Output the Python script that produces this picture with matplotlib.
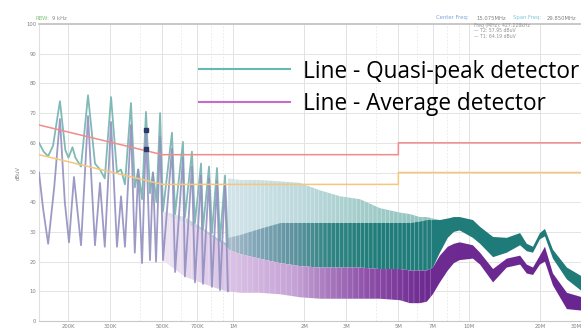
import numpy as np
import matplotlib.pyplot as plt
from matplotlib.patches import PathPatch
from matplotlib.lines import Line2D
from matplotlib.colors import to_rgb

W, H = 581, 328

# limit lines (MHz, dBuV)
lim_f = [0.15, 0.5, 5, 5, 30]
qp_limit = [66, 56, 56, 60, 60]
avg_limit = [56, 46, 46, 50, 50]

# low band traces, peaks / valleys (kHz, dBuV)
qp_lo_f = [150, 157, 164, 172, 184, 194, 200, 208, 214, 226, 242, 259, 272, 285, 303, 321, 334, 347,
           368, 382, 395, 410, 426, 443, 456, 472, 489, 503, 549, 566, 611, 623, 667, 687, 729, 743,
           788, 811, 852, 877, 921, 948]
qp_lo = [60, 57, 55.5, 59, 74, 57.5, 55, 58.5, 55, 52, 76, 53, 51, 48, 75.4, 50, 51, 46,
         73.4, 45, 51, 41, 70.4, 43, 50, 40, 70, 37, 63.4, 36, 60.3, 35, 57, 33, 53, 31,
         52, 29.6, 51.5, 27, 49, 25]

avg_lo_f = [150, 156, 164, 174, 184, 193, 201, 211, 226, 242, 259, 272, 285, 303, 321, 334, 347,
            368, 382, 395, 410, 426, 443, 456, 470, 489, 503, 549, 566, 611, 623, 667, 687, 729,
            743, 788, 811, 852, 877, 921, 948]
avg_lo = [50, 38, 26, 45, 68, 40, 26.5, 48.5, 25.5, 69, 25.5, 46.5, 25, 67, 25, 42, 25,
          66, 23, 51, 19.5, 64, 20.5, 50, 20, 62, 20.5, 58, 16.5, 55, 15, 52, 13, 49,
          12.5, 48, 11.5, 47, 10.4, 46, 10]

# dense band envelopes (MHz, dBuV)
hi_f = [0.5, 0.62, 0.75, 0.85, 0.94, 0.95, 1.07, 1.29, 1.58, 1.91, 2.33, 2.83, 3.44, 4.18, 5.08,
        5.6, 6.17, 6.6, 7.0, 7.5, 8.1, 8.6, 9.1, 10.35, 11.1, 12.6, 14.4, 16.4, 17.5, 18.6,
        19.9, 20.9, 22.6, 25.9, 30]
qp_top = [37, 35, 31, 28, 26, 48, 47.5, 47.5, 47, 46.5, 44, 42, 41, 38, 36.5,
          36, 35, 35, 34.5, 34, 34.5, 35, 35, 34, 31.7, 28.3, 28, 29.6, 26, 25,
          29.6, 31, 24, 18, 15]
qp_mid = [37, 35, 31, 28, 26, 28, 29, 31, 33, 33, 33, 33, 33, 33, 33,
          33, 33.5, 34, 34, 34, 34.5, 35, 35, 34, 31.7, 28.3, 28, 29.6, 26, 25,
          29.6, 31, 24, 18, 15]
qp_bot = [36, 33, 30, 27, 25, 24, 22.5, 21, 19.5, 18.5, 18, 18, 18, 17.5, 17.5,
          17, 17, 17, 18, 23, 28, 30, 30.5, 28, 26, 21.5, 23, 25.5, 23.5, 23,
          27.5, 28.5, 21, 14, 10]
avg_top = [36, 33, 30, 27, 25, 24, 22.5, 21, 19.5, 18.5, 18, 18, 18, 17.5, 17.5,
           17, 17, 17, 18, 22, 25, 26, 26.5, 25.5, 23, 17.5, 21, 22, 19, 18,
           22, 25, 16, 9.5, 8]
avg_bot = [20.5, 15, 12.5, 11, 10, 10, 9.5, 9.5, 9, 8, 7.5, 7.5, 7.5, 7.5, 7,
           6, 6, 6.5, 9, 13, 17, 19.5, 20.5, 21, 19, 13, 18, 19, 16, 15.5,
           19, 20, 12, 4, 3.5]

# markers T1 / T2
mark_f = [0.426, 0.426]
mark_v = [64.19, 57.95]

xtick_f = [0.2, 0.3, 0.5, 0.7, 1, 2, 3, 5, 7, 10, 20, 30]
xtick_lbl = ['200K', '300K', '500K', '700K', '1M', '2M', '3M', '5M', '7M', '10M', '20M', '30M']
xminor_f = [0.4, 0.6, 0.8, 0.9, 4, 6, 8, 9]

F0, F1 = 0.15, 30


def axfrac(f):
    return (np.log10(f) - np.log10(F0)) / (np.log10(F1) - np.log10(F0))


def grad_band(ax, f, lo, hi, stops, cols, z, alpha=1.0):
    poly = ax.fill_between(f, lo, hi, facecolor='none', edgecolor='none')
    patch = PathPatch(poly.get_paths()[0], transform=ax.transData, fc='none', ec='none')
    ax.add_patch(patch)
    xs = np.linspace(0, 1, 600)
    rgb = np.array([to_rgb(c) for c in cols])
    pos = axfrac(np.array(stops))
    img = np.stack([np.interp(xs, pos, rgb[:, k]) for k in range(3)], axis=-1)[None, :, :]
    im = ax.imshow(img, extent=[0, 1, 0, 1], transform=ax.transAxes, aspect='auto',
                   zorder=z, interpolation='bilinear', alpha=alpha)
    im.set_clip_path(patch)


plt.rcParams['hatch.linewidth'] = 0.5

fig = plt.figure(figsize=(W / 100, H / 100), dpi=100)
ax = fig.add_axes([39 / W, 7 / H, 543 / W, 297 / H])
ax.set_xscale('log')
ax.set_xlim(F0, F1)
ax.set_ylim(0, 100)
ax.set_autoscale_on(False)

# grid
for y in range(10, 100, 10):
    ax.axhline(y, color='#e4e4e4', lw=0.7, zorder=0)
for f in xtick_f:
    ax.axvline(f, color='#e2e2e2', lw=0.7, zorder=0)
for f in xminor_f:
    ax.axvline(f, color='#e8e8e8', lw=0.6, ls=(0, (2, 2)), zorder=0)

# limit lines
ax.plot(lim_f, qp_limit, color='#f08c8c', lw=1.1, zorder=4)
ax.plot(lim_f, avg_limit, color='#f6c77a', lw=1.1, zorder=4)

# dense band: quasi-peak
grad_band(ax, hi_f, qp_mid, qp_top, [0.95, 2.0, 3.5, 7], ['#d2e4ea', '#bcd9dd', '#a4cdca', '#8fc3bf'], 2)
grad_band(ax, hi_f, qp_bot, qp_mid, [0.5, 0.9, 1.2, 1.8, 2.6, 4, 30],
          ['#e6e4ee', '#b5c3d2', '#86a9ba', '#5f93a0', '#2f8583', '#217d7b', '#1f7a78'], 2)
# dense band: average
grad_band(ax, hi_f, avg_bot, avg_top, [0.5, 0.9, 1.8, 2.6, 4, 6.5, 30],
          ['#efe6f4', '#dcc6e7', '#c6a3d6', '#a676bc', '#8a4aa6', '#6e2b92', '#6a2690'], 2.5)

# streak texture of the dense sweep
n_streak = 19
ax.fill_between(hi_f[:n_streak], qp_bot[:n_streak], qp_top[:n_streak], facecolor='none',
                edgecolor='#ffffff', hatch='||||', lw=0, alpha=0.45, zorder=2.6)
ax.fill_between(hi_f[:n_streak], avg_bot[:n_streak], avg_top[:n_streak], facecolor='none',
                edgecolor='#ffffff', hatch='|||', lw=0, alpha=0.3, zorder=2.6)

# low band traces
ax.plot(np.array(qp_lo_f) / 1000, qp_lo, color='#80bab6', lw=1.3, zorder=3,
        solid_joinstyle='round')
ax.plot(np.array(avg_lo_f) / 1000, avg_lo, color='#9290c0', lw=1.3, alpha=0.9, zorder=3,
        solid_joinstyle='round')

ax.plot(mark_f, mark_v, 's', color='#283a6a', ms=2.2, zorder=5)

# axes style
ax.spines['right'].set_visible(False)
ax.spines['top'].set_color('#c4c4c4')
ax.spines['top'].set_linewidth(1.3)
ax.spines['bottom'].set_color('#c8c8c8')
ax.spines['left'].set_color('#e0e0e0')
ax.set_xticks(xtick_f)
ax.set_xticklabels(xtick_lbl)
ax.set_xticks([], minor=True)
ax.set_yticks(range(0, 101, 10))
ax.tick_params(length=0, labelsize=3.8, labelcolor='#808080', pad=2)
ax.get_xticklabels()[-1].set_horizontalalignment('right')
ax.set_ylabel('dBuV', fontsize=3.8, color='#808080', labelpad=4)

# header texts
fig.text(36 / W, 1 - 18 / H, 'RBW:', fontsize=3.8, color='#7cc47c', va='center')
fig.text(52 / W, 1 - 18 / H, '9 kHz', fontsize=3.8, color='#8a8a8a', va='center')
fig.text(436 / W, 1 - 18 / H, 'Center Freq:', fontsize=3.8, color='#7aa4dc', va='center')
fig.text(476 / W, 1 - 18 / H, '15.075MHz', fontsize=3.8, color='#808080', va='center')
fig.text(513 / W, 1 - 18 / H, 'Span Freq:', fontsize=3.8, color='#7cc8dc', va='center')
fig.text(547 / W, 1 - 18 / H, '29.850MHz', fontsize=3.8, color='#808080', va='center')
fig.text(474 / W, 1 - 26 / H, 'Freq (MHz): 427.228kHz', fontsize=3.3, color='#909090', va='center')
fig.text(474 / W, 1 - 31 / H, '\u2014 T2: 57.95 dBuV', fontsize=3.3, color='#909090', va='center')
fig.text(474 / W, 1 - 36 / H, '\u2014 T1: 64.19 dBuV', fontsize=3.3, color='#909090', va='center')

# overlay legend
fig.add_artist(Line2D([199 / W, 290 / W], [1 - 69 / H] * 2, color='#62bab2', lw=1.5))
fig.add_artist(Line2D([199 / W, 290 / W], [1 - 102 / H] * 2, color='#c46ccb', lw=1.5))
fig.text(303 / W, 1 - 77.5 / H, 'Line - Quasi-peak detector', fontsize=16.3, family='Open Sans',
         color='black', va='baseline')
fig.text(303 / W, 1 - 110.5 / H, 'Line - Average detector', fontsize=16.3, family='Open Sans',
         color='black', va='baseline')

fig.savefig('out.png', dpi=100)
